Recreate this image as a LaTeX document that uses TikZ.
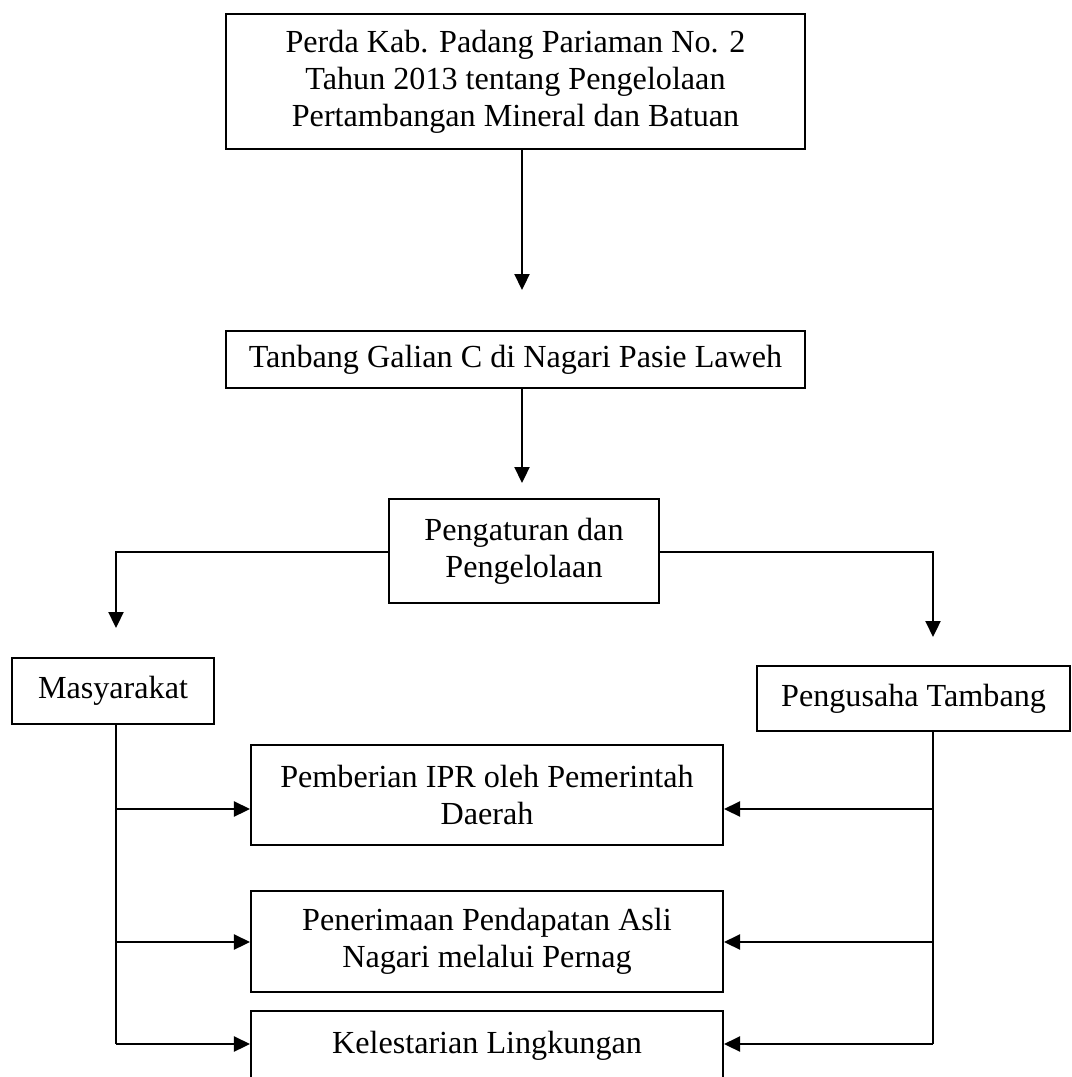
\documentclass[tikz,border=0pt]{standalone}
\usepackage{fontspec}
\setmainfont{Liberation Serif}
\usetikzlibrary{arrows.meta,positioning}

\begin{document}
\begin{tikzpicture}[x=0.02cm,y=-0.02cm,
  kotak/.style={draw,line width=1.2pt,align=center,inner sep=0pt,font=\fontsize{18.3}{21}\selectfont},
  panah/.style={line width=1.3pt,-{Triangle[length=0.32cm,width=0.3cm]}},
  garis/.style={line width=1.3pt}]
  \useasboundingbox (0,0) rectangle (1071,1077); % ukuran gambar
  \node[kotak,minimum width=11.58cm,minimum height=2.7cm] (perda) at (515.5,81.5)
    {Perda Kab. Padang Pariaman No. 2\\Tahun 2013 tentang Pengelolaan\\Pertambangan Mineral dan Batuan};
  \node[kotak,minimum width=11.58cm,minimum height=1.14cm] (tanbang) at (515.5,359.5)
    {Tanbang Galian C di Nagari Pasie Laweh};
  \node[kotak,minimum width=5.4cm,minimum height=2.08cm] (atur) at (524,551)
    {Pengaturan dan\\Pengelolaan};
  \node[kotak,minimum width=4.04cm,minimum height=1.32cm] (masy) at (113,691) {Masyarakat};
  \node[kotak,minimum width=6.26cm,minimum height=1.3cm] (usaha) at (913.5,698.5) {Pengusaha Tambang};
  \node[kotak,minimum width=9.44cm,minimum height=2cm] (ipr) at (487,795)
    {Pemberian IPR oleh Pemerintah\\Daerah};
  \node[kotak,minimum width=9.44cm,minimum height=2.02cm] (pad) at (487,941.5)
    {Penerimaan Pendapatan Asli\\Nagari melalui Pernag};
  \node[kotak,minimum width=9.44cm,minimum height=1.4cm] (lestari) at (487,1046)
    {Kelestarian Lingkungan}; % sisi bawah di luar gambar

  % panah utama
  \coordinate (t1) at (522,290);
  \coordinate (t2) at (522,483);
  \draw[panah] (perda.south -| t1) -- (t1);
  \draw[panah] (tanbang.south -| t2) -- (t2);

  % cabang kiri dan kanan
  \coordinate (cab) at (524,552);
  \coordinate (tk) at (116,628);
  \coordinate (tn) at (933,637);
  \draw[panah] (atur.west |- cab) -| (tk);
  \draw[panah] (atur.east |- cab) -| (tn);

  \coordinate (kb) at (116,1044);
  \coordinate (nb) at (933,1044);
  \draw[garis] (masy.south -| kb) -- (kb);
  \draw[garis] (usaha.south -| nb) -- (nb);
  \foreach \n/\y in {ipr/809,pad/942,lestari/1044}{
    \coordinate (ki\n) at (116,\y);
    \coordinate (ka\n) at (933,\y);
    \draw[panah] (ki\n) -- (\n.west |- ki\n);
    \draw[panah] (ka\n) -- (\n.east |- ka\n);
  }
\end{tikzpicture}
\end{document}
